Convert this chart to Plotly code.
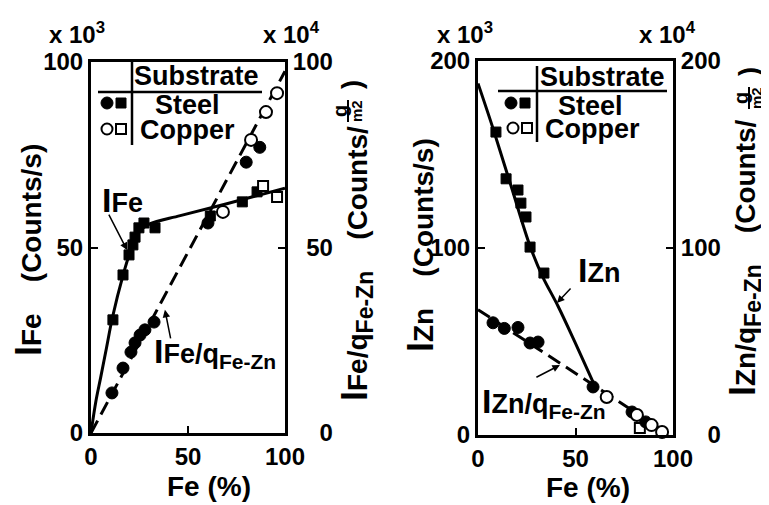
import plotly.graph_objects as go

W, H = 769, 505
OFF = 8  # page body margin of the browser
FONT = "Liberation Sans"

# ---------------- data ----------------
# Left panel (Fe): I_Fe on left axis (x10^3 counts/s), I_Fe/q on right axis (x10^4)
fe_ife_steel_x = [11.3, 16.5, 19.6, 21.6, 22.7, 24.7, 27.3, 33.0, 61.5, 78.0, 85.6]
fe_ife_steel_y = [30.5, 42.6, 48.0, 50.7, 52.8, 55.3, 56.6, 55.3, 58.5, 62.3, 65.0]
fe_ife_copper_x = [88.7, 95.9]
fe_ife_copper_y = [66.6, 63.6]
fe_ratio_steel_x = [10.8, 16.5, 20.6, 22.7, 25.3, 27.8, 32.5, 60.3, 80.0, 87.0]
fe_ratio_steel_y = [10.8, 17.5, 21.8, 24.3, 26.4, 27.8, 29.9, 56.6, 73.0, 77.0]
fe_ratio_copper_x = [68.0, 82.5, 90.2, 95.9]
fe_ratio_copper_y = [59.6, 79.0, 86.5, 91.6]
fe_curve_x = [0, 2.5, 5, 8, 11, 16.5, 21, 25, 30, 46, 70, 100]
fe_curve_y = [0, 8.5, 15, 23, 31, 42.5, 50, 54.3, 56.3, 58.6, 61.8, 66]
fe_ratio_line_x = [0, 100]
fe_ratio_line_y = [0, 97.5]

# Right panel (Zn): I_Zn on left axis (x10^3), I_Zn/q on right axis (x10^4)
zn_izn_steel_x = [9.2, 14.4, 20.5, 22.0, 24.6, 26.7, 33.8]
zn_izn_steel_y = [162, 137, 131, 124, 116.6, 100.5, 86.6]
zn_izn_copper_x = [83.0]
zn_izn_copper_y = [3.7]
zn_ratio_steel_x = [7.7, 13.5, 20.5, 26.7, 30.8, 59.0, 79.0, 86.0]
zn_ratio_steel_y = [60, 57, 57.5, 49.2, 49.7, 25.7, 12.3, 7.0]
zn_ratio_copper_x = [66.0, 81.5, 89.0, 94.4]
zn_ratio_copper_y = [20.3, 10.7, 5.3, 1.6]
zn_curve_x = [0, 8, 17, 26.7, 33, 41, 50, 60]
zn_curve_y = [188, 163, 133, 101, 85, 69, 49, 26]
zn_ratio_line_x = [0, 98.5]
zn_ratio_line_y = [67, 0]

x_ticks = [0, 50, 100]
fe_ticks = [0, 50, 100]
zn_ticks = [0, 100, 200]
FS = "\u2007"  # figure space for right-aligned right-axis labels
fe_right_text = [FS + FS + "0", FS + "50", "100"]
zn_right_text = [FS + FS + "0", "100", "200"]


def pxx(x):
    return (x - OFF) / W


def pyy(y):
    return 1 - (y - OFF) / H


fig = go.Figure()

DASH = "14px,7px"


def line_tr(x, y, xa, ya, dash=None, shape="spline"):
    return go.Scatter(x=x, y=y, xaxis=xa, yaxis=ya, mode="lines",
                      line=dict(color="black", width=3, dash=dash, shape=shape),
                      hoverinfo="skip")


def mark_tr(x, y, xa, ya, symbol, filled, size):
    return go.Scatter(x=x, y=y, xaxis=xa, yaxis=ya, mode="markers", cliponaxis=False,
                      marker=dict(symbol=symbol, size=size,
                                  color="black" if filled else "white",
                                  line=dict(color="black", width=1 if filled else 2)))


# left panel
fig.add_trace(line_tr(fe_curve_x, fe_curve_y, "x", "y"))
fig.add_trace(mark_tr(fe_ife_steel_x, fe_ife_steel_y, "x", "y", "square", True, 10))
fig.add_trace(mark_tr(fe_ife_copper_x, fe_ife_copper_y, "x", "y", "square", False, 10))
fig.add_trace(line_tr(fe_ratio_line_x, fe_ratio_line_y, "x", "y2", dash=DASH, shape="linear"))
fig.add_trace(mark_tr(fe_ratio_steel_x, fe_ratio_steel_y, "x", "y2", "circle", True, 12))
fig.add_trace(mark_tr(fe_ratio_copper_x, fe_ratio_copper_y, "x", "y2", "circle", False, 12))

# right panel
fig.add_trace(line_tr(zn_curve_x, zn_curve_y, "x2", "y3"))
fig.add_trace(mark_tr(zn_izn_steel_x, zn_izn_steel_y, "x2", "y3", "square", True, 10))
fig.add_trace(mark_tr(zn_izn_copper_x, zn_izn_copper_y, "x2", "y3", "square", False, 10))
fig.add_trace(line_tr(zn_ratio_line_x, zn_ratio_line_y, "x2", "y4", dash=DASH, shape="linear"))
fig.add_trace(mark_tr(zn_ratio_steel_x, zn_ratio_steel_y, "x2", "y4", "circle", True, 12))
fig.add_trace(mark_tr(zn_ratio_copper_x, zn_ratio_copper_y, "x2", "y4", "circle", False, 12))

tickfont = dict(family=FONT, size=24, color="black", weight="bold")
common = dict(showline=True, linewidth=3, linecolor="black", ticks="inside", ticklen=7,
              tickwidth=2, tickcolor="black", showgrid=False, zeroline=False,
              tickfont=tickfont, fixedrange=True, automargin=False)

L_X = (91, 285)
L_Y = (62, 433)
R_X = (478, 673)
R_Y = (61, 435)

fig.update_layout(
    template="none",
    width=W, height=H, margin=dict(l=0, r=0, t=0, b=0, pad=0), autosize=False,
    paper_bgcolor="white", plot_bgcolor="white", showlegend=False,
    xaxis=dict(domain=[pxx(L_X[0]), pxx(L_X[1])], range=[0, 100], tickvals=x_ticks,
               anchor="y", mirror=True, **common),
    yaxis=dict(domain=[pyy(L_Y[1]), pyy(L_Y[0])], range=[0, 100], tickvals=fe_ticks,
               anchor="x", **common),
    yaxis2=dict(overlaying="y", side="right", range=[0, 100], tickvals=fe_ticks,
                ticktext=fe_right_text, anchor="x", **common),
    xaxis2=dict(domain=[pxx(R_X[0]), pxx(R_X[1])], range=[0, 100], tickvals=x_ticks,
                anchor="y3", mirror=True, **common),
    yaxis3=dict(domain=[pyy(R_Y[1]), pyy(R_Y[0])], range=[0, 200], tickvals=zn_ticks,
                anchor="x2", **common),
    yaxis4=dict(overlaying="y3", side="right", range=[0, 200], tickvals=zn_ticks,
                ticktext=zn_right_text, anchor="x2", **common),
)


def ann(text, x, y, size=27, angle=0, xanchor="center", yanchor="middle"):
    return dict(text=text, x=pxx(x), y=pyy(y), xref="paper", yref="paper",
                showarrow=False, textangle=angle, xanchor=xanchor, yanchor=yanchor,
                font=dict(family=FONT, size=size, color="black", weight="bold"))


def arrow(x, y, xa, ya, ax, ay):
    return dict(text="", x=x, y=y, xref=xa, yref=ya, ax=ax, ay=ay, axref="pixel",
                ayref="pixel", showarrow=True, arrowhead=2, arrowsize=1,
                arrowwidth=1.5, arrowcolor="black")


BIGI = '<span style="font-size:34px">I</span>'
SUBFEZN = '<sub><span style="font-size:21px">Fe-Zn</span></sub>'
SUBFEZN_T = '<sub><span style="font-size:23px">Fe-Zn</span></sub>'
BIGI_T = '<span style="font-size:36px">I</span>'

annotations = [
    # exponent labels
    ann("x 10<sup>3</sup>", 77, 33, size=24),
    ann("x 10<sup>4</sup>", 291, 33, size=24),
    ann("x 10<sup>3</sup>", 465, 33, size=24),
    ann("x 10<sup>4</sup>", 667, 33, size=24),
    # x titles
    ann("Fe (%)", 209, 486, size=28),
    ann("Fe (%)", 588, 487, size=28),
    # y titles left panel
    ann(BIGI_T + "Fe    (Counts/s)", 28, 250, size=28, angle=-90),
    ann(BIGI_T + "Fe/q" + SUBFEZN_T + "    (Counts/", 356, 264, size=28, angle=-90),
    ann("g", 340, 111, size=20, angle=-90),
    ann("m2", 357, 111, size=15, angle=-90),
    ann(")", 352, 85, angle=-90),
    # y titles right panel
    ann(BIGI_T + "Zn    (Counts/s)", 420, 245, size=28, angle=-90),
    ann(BIGI_T + "Zn/q" + SUBFEZN_T + "    (Counts/", 744, 258, size=28, angle=-90),
    ann("g", 741, 98, size=20, angle=-90),
    ann("m2", 757, 98, size=15, angle=-90),
    ann(")", 749, 72, angle=-90),
    # legend texts
    ann("Substrate", 196.5, 76),
    ann("Steel", 187, 105),
    ann("Copper", 187, 130),
    ann("Substrate", 602, 77),
    ann("Steel", 590, 106),
    ann("Copper", 592, 129),
    # curve labels
    ann(BIGI + "Fe", 122, 200),
    ann(BIGI + "Fe/q" + SUBFEZN, 215, 352),
    ann(BIGI + "Zn", 599, 270),
    ann(BIGI + "Zn/q" + SUBFEZN, 544, 402),
    # arrows
    arrow(18.6, 49.3, "x", "y", -19, -37),
    arrow(38.1, 33.2, "x", "y2", 6, 30),
    arrow(40.5, 70.6, "x2", "y3", 15, -16),
    arrow(42.0, 37.4, "x2", "y4", -25, 13),
]


def pline(x0, y0, x1, y1, w=2.5):
    return dict(type="line", xref="paper", yref="paper", x0=pxx(x0), y0=pyy(y0),
                x1=pxx(x1), y1=pyy(y1), line=dict(color="black", width=w))


def pcirc(cx, cy, d, filled, kind="circle"):
    r = d / 2
    return dict(type=kind, xref="paper", yref="paper", x0=pxx(cx - r), x1=pxx(cx + r),
                y0=pyy(cy + r), y1=pyy(cy - r),
                fillcolor="black" if filled else "white",
                line=dict(color="black", width=1 if filled else 2))


shapes = [
    # left legend
    pline(132, 62, 132, 145), pline(98, 92, 262, 92),
    pcirc(107, 103, 12, True), pcirc(121, 103, 10, True, "rect"),
    pcirc(107, 129, 11, False), pcirc(121, 129, 10, False, "rect"),
    # right legend
    pline(537, 66, 537, 142), pline(498, 91, 667, 91),
    pcirc(511, 103, 12, True), pcirc(525, 103, 10, True, "rect"),
    pcirc(513, 128, 11, False), pcirc(527, 128, 10, False, "rect"),
    # fraction bars
    pline(348, 100, 348, 122, 2), pline(749, 87, 749, 109, 2),
]

fig.update_layout(annotations=annotations, shapes=shapes)
fig.write_html("out.html")
